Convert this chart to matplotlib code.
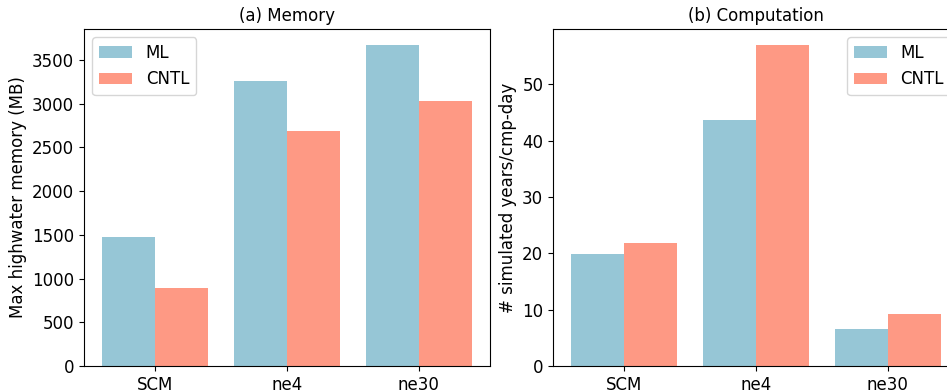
import matplotlib
matplotlib.use("Agg")
import matplotlib.pyplot as plt
import numpy as np

categories = ["SCM", "ne4", "ne30"]
series_names = ["ML", "CNTL"]
memory_ml = [1475, 3263, 3670]
memory_cntl = [889, 2684, 3031]
comp_ml = [19.8, 43.65, 6.6]
comp_cntl = [21.75, 56.95, 9.2]
colors = ["#96C6D6", "#FE9984"]

plt.rcParams['font.family'] = ['DejaVu Sans']
FS = 12

W, H = 947, 392
fig = plt.figure(figsize=(W / 100, H / 100), dpi=100)
ax1 = fig.add_axes([84 / W, (H - 366) / H, 406 / W, 337 / H])
ax2 = fig.add_axes([553 / W, (H - 366) / H, 406 / W, 337 / H])

x = np.arange(len(categories))
w = 0.4
for ax, ml, cn, title, ylabel, loc in [
    (ax1, memory_ml, memory_cntl, "(a) Memory", "Max highwater memory (MB)", "upper left"),
    (ax2, comp_ml, comp_cntl, "(b) Computation", "# simulated years/cmp-day", "upper right"),
]:
    ax.bar(x - w / 2, ml, w, color=colors[0], label=series_names[0])
    ax.bar(x + w / 2, cn, w, color=colors[1], label=series_names[1])
    ax.set_xticks(x)
    ax.set_xticklabels(categories, fontsize=FS)
    ax.tick_params(axis='y', labelsize=FS)
    ax.set_title(title, fontsize=FS)
    ax.set_ylabel(ylabel, fontsize=FS)
    ax.legend(loc=loc, fontsize=FS)

fig.savefig("out.png", dpi=100)
